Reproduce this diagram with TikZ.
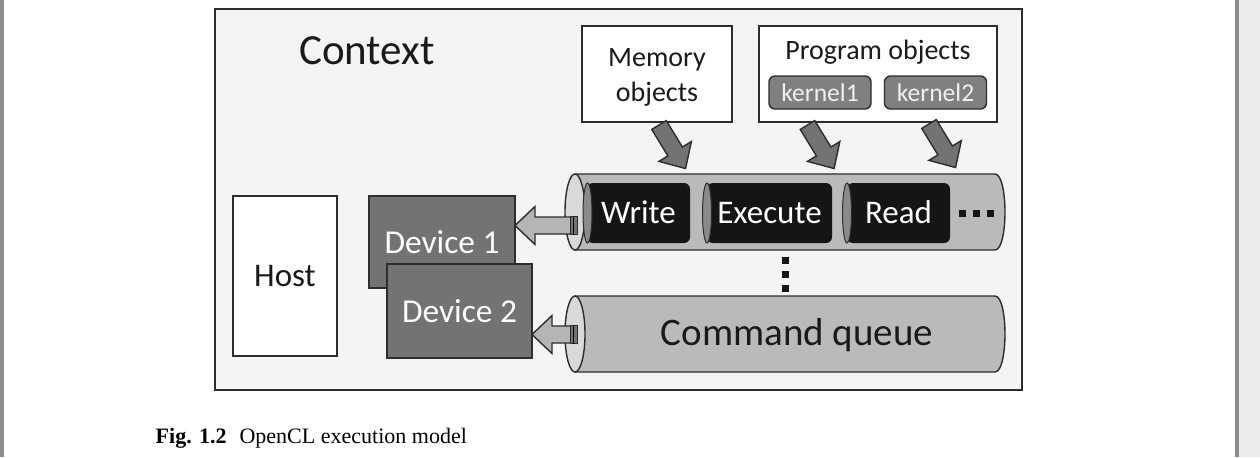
\documentclass[tikz,border=0pt]{standalone}
\usepackage{fontspec}
\setmainfont{Liberation Serif}
\newfontfamily\calib{Carlito}
\usetikzlibrary{calc}
\definecolor{ctxfill}{RGB}{244,244,244}
\definecolor{edge}{RGB}{45,45,45}
\definecolor{queuegray}{RGB}{186,186,186}
\definecolor{facegray}{RGB}{217,217,217}
\definecolor{innerface}{RGB}{138,138,138}
\definecolor{devgray}{RGB}{115,115,115}
\definecolor{kerngray}{RGB}{128,128,128}
\definecolor{kerntext}{RGB}{240,240,240}
\definecolor{arrowlight}{RGB}{181,181,181}
\definecolor{cmdblack}{RGB}{21,21,21}
\definecolor{inktext}{RGB}{26,26,26}
\definecolor{pagebar}{RGB}{140,140,140}
\definecolor{pageside}{RGB}{236,236,236}

\begin{document}
\begin{tikzpicture}[x=0.5pt, y=-0.5pt, line width=0.7pt,
    box/.style={draw=edge, fill=white, inner sep=0pt, text=inktext},
    devbox/.style={draw=edge, fill=devgray, text=white, inner sep=0pt,
      minimum width=73pt, minimum height=46pt, font=\calib\fontsize{16.7}{20}\selectfont},
    cmdbox/.style={fill=cmdblack, rounded corners=3pt, text=white, inner sep=0pt,
      text height=10.6pt, text depth=0pt, minimum height=30pt,
      font=\calib\fontsize{16.5}{20}\selectfont},
    kernbox/.style={draw=edge, fill=kerngray, rounded corners=3pt, text=kerntext, inner sep=0pt,
      minimum width=51pt, minimum height=16.5pt, font=\calib\fontsize{12.8}{15}\selectfont},
    pics/blockarrow/.style 2 args={code={
      \filldraw[fill=#2, draw=edge] (0,-8.5) -- ({#1-20},-8.5) -- ({#1-20},-19) -- (#1,0)
        -- ({#1-20},19) -- ({#1-20},8.5) -- (0,8.5) -- cycle;}}]
    % page and frame
    \fill[white] (0,0) rectangle (1260,457);
    \useasboundingbox (0,0) rectangle (1260,457);
    \fill[pagebar] (0,0) rectangle (4,457);
    \fill[pagebar] (1235,0) rectangle (1239,457);
    \fill[pageside] (1239,0) rectangle (1260,457);
    \node[box, fill=ctxfill, minimum width=403.5pt, minimum height=190.5pt] (ctx) at (618.5,199.5) {};
    \node[anchor=base, text=inktext, font=\calib\fontsize{21.5}{26}\selectfont] (ctxtitle) at (367,64) {Context};
    % host and devices
    \node[box, minimum width=52pt, minimum height=80pt, font=\calib\fontsize{16.5}{20}\selectfont] (host) at (285,276) {Host};
    \node[devbox] (dev1) at (442,242) {Device 1};
    \node[devbox, minimum width=72.5pt, minimum height=47pt] (dev2) at (459.5,311) {Device 2};
    % memory and program objects
    \node[box, minimum width=75pt, minimum height=48pt] (mem) at (657,74) {};
    \node[text=inktext, align=center, font=\calib\fontsize{14}{17.5}\selectfont] (memtext) at (657,77) {Memory\\objects};
    \node[box, minimum width=119pt, minimum height=48pt] (prog) at (878,74) {};
    \node[anchor=base, text=inktext, font=\calib\fontsize{14}{17}\selectfont] (progtitle) at (878,59) {Program objects};
    \node[kernbox] (k1) at (820,92.5) {kernel1};
    \node[kernbox] (k2) at (935.5,92.5) {kernel2};
    % queue with commands
    \filldraw[fill=queuegray, draw=edge] (575,174) -- (995,174) .. controls (1002,174) and (1005,195) .. (1005,212)
      .. controls (1005,229) and (1002,250) .. (995,250) -- (575,250) -- cycle;
    \filldraw[fill=facegray, draw=edge] (575,212) ellipse (10 and 38);
    \node[cmdbox, minimum width=51.5pt] (write) at (638.5,213) {Write};
    \node[cmdbox, minimum width=62.5pt] (exec) at (769.5,213) {Execute};
    \node[cmdbox, minimum width=51.5pt] (read) at (898.5,213) {Read};
    \foreach \cx in {587.5,707,847}
      \filldraw[fill=innerface, draw=edge, line width=0.5pt] (\cx,213) ellipse (4.5 and 30);
    \foreach \dx in {962,976.5,990.5}
      \fill[cmdblack] (\dx-3.5,209.5) rectangle ++(7,7);
    \foreach \dy in {260,274.5,288.5}
      \fill[cmdblack] (781.5,\dy-3.5) rectangle ++(7,7);
    % command queue
    \filldraw[fill=queuegray, draw=edge] (575,296) -- (995,296) .. controls (1002,296) and (1005,317) .. (1005,334)
      .. controls (1005,351) and (1002,372) .. (995,372) -- (575,372) -- cycle;
    \filldraw[fill=facegray, draw=edge] (575,334) ellipse (10 and 38);
    \node[text=inktext, font=\calib\fontsize{19.5}{23}\selectfont] (cmdq) at (797,335) {Command queue};
    % arrows queue -> device
    \coordinate (q1tail) at (572,225.5);
    \coordinate (q2tail) at (573,334.5);
    \pic[rotate=180] at (q1tail) {blockarrow={57}{arrowlight}};
    \pic[rotate=180] at (q2tail) {blockarrow={41}{arrowlight}};
    \foreach \ty in {225.5,334.5}{
      \filldraw[fill=devgray, draw=edge, line width=0.4pt] (570,\ty-9) rectangle (577,\ty+9);
      \draw[line width=0.4pt] (573.5,\ty-9) -- (573.5,\ty+9);
    }
    % arrows objects -> queue
    \coordinate (memtail) at (659,125);
    \coordinate (k1tail) at (807.5,125);
    \coordinate (k2tail) at (929,124);
    \foreach \t in {memtail,k1tail,k2tail}
      \pic[rotate=-58.6] at (\t) {blockarrow={51}{devgray}};
    % caption
    \node[anchor=base west, inner sep=0pt, font=\fontsize{11}{13}\selectfont] (caption) at (155,443)
      {\textbf{Fig. 1.2}\hspace{6.5pt}OpenCL execution model};
\end{tikzpicture}
\end{document}
